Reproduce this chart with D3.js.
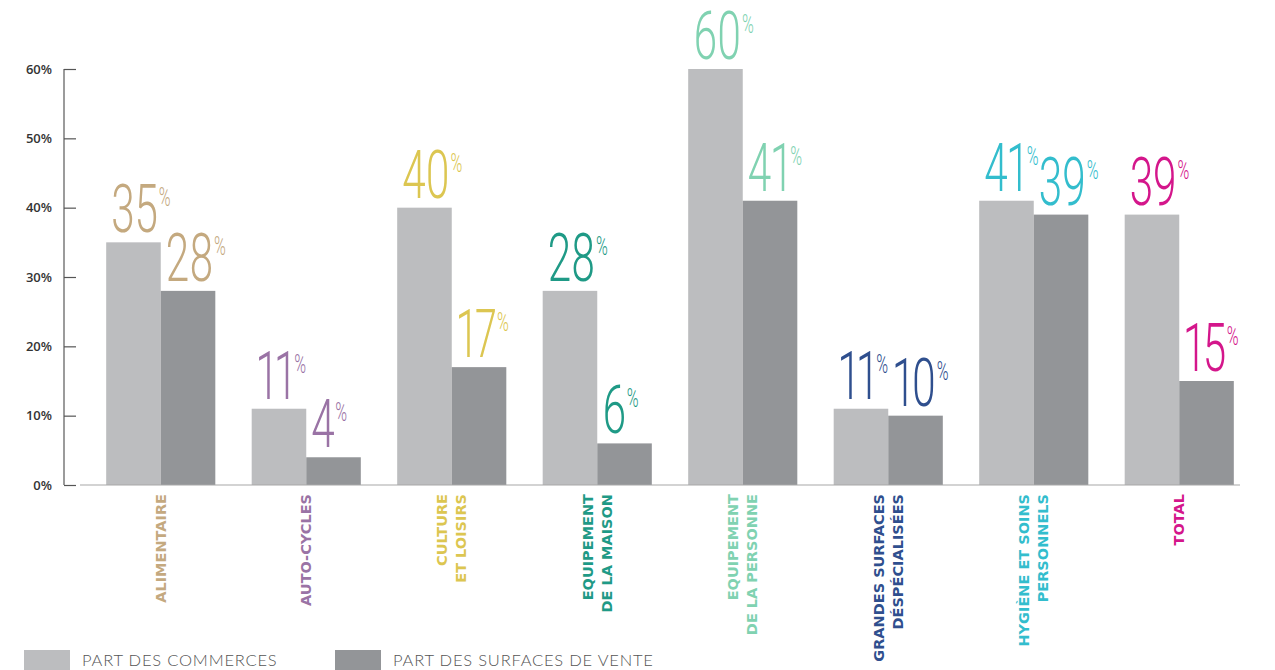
<!DOCTYPE html>
<html>
<head>
<meta charset="utf-8">
<script src="https://cdn.jsdelivr.net/npm/d3@7"></script>
<style>
  body { margin: 0; background: #fff; }
  svg { display: block; }
</style>
</head>
<body>
<svg width="1275" height="670"></svg>
<script>
let svg = d3.select("svg");

// data
let categories = ["alimentaire", "auto", "culture", "maison", "personne", "gsurf", "hygiene", "total"];
let catLabels = [
    ["ALIMENTAIRE"],
    ["AUTO-CYCLES"],
    ["CULTURE", "ET LOISIRS"],
    ["EQUIPEMENT", "DE LA MAISON"],
    ["EQUIPEMENT", "DE LA PERSONNE"],
    ["GRANDES SURFACES", "DÉSPÉCIALISÉES"],
    ["HYGIÈNE ET SOINS", "PERSONNELS"],
    ["TOTAL"]
];
let catColors = ["#c4a97f", "#9a73a5", "#dcc651", "#1f9a86", "#80d2b1", "#2f4f8e", "#33bdcd", "#d4168b"];
let commerces = [35, 11, 40, 28, 60, 11, 41, 39];
let surfaces = [28, 4, 17, 6, 41, 10, 39, 15];
let seriesNames = ["PART DES COMMERCES", "PART DES SURFACES DE VENTE"];
let seriesColors = ["#bcbdbf", "#939598"];
let yTicks = [0, 10, 20, 30, 40, 50, 60];

// layout
let x0 = d3.scaleBand().domain(categories).range([88, 1252]).paddingInner(0.25).paddingOuter(0.125);
let x1 = d3.scaleBand().domain([0, 1]).range([0, x0.bandwidth()]);
let y = d3.scaleLinear().domain([0, 60]).range([485, 69]);

// y axis
let yAxis = d3.axisRight(y).tickValues(yTicks).tickSize(12).tickFormat("");
let ga = svg.append("g").attr("transform", "translate(64,0)").call(yAxis);
ga.select(".domain").attr("stroke", "#7a7a7a").attr("stroke-width", 1.5).attr("d", "M0," + y(60) + "V" + y(0));
ga.selectAll(".tick line").attr("stroke", "#555").attr("stroke-width", 1.2);

svg.append("g").selectAll("text")
    .data(yTicks)
    .join("text")
    .attr("x", 52)
    .attr("y", d => y(d))
    .attr("dy", "0.35em")
    .attr("text-anchor", "end")
    .style("font-family", "'Open Sans', sans-serif")
    .style("font-weight", 600)
    .style("font-size", "13px")
    .style("fill", "#333")
    .text(d => d + "%");

// bars
let groups = svg.append("g").selectAll("g")
    .data(categories)
    .join("g")
    .attr("transform", d => "translate(" + x0(d) + ",0)");

groups.each(function (c, i) {
    let g = d3.select(this);
    let vals = [commerces[i], surfaces[i]];
    vals.forEach((v, s) => {
        g.append("rect")
            .attr("x", x1(s))
            .attr("y", y(v))
            .attr("width", x1.bandwidth())
            .attr("height", y(0) - y(v))
            .attr("fill", seriesColors[s]);
        let t = g.append("text")
            .attr("transform", "translate(" + (x1(s) + 5) + "," + (y(v) - 10) + ") scale(0.64,1)")
            .style("font-family", "Roboto, sans-serif")
            .style("font-weight", 300)
            .style("font-variant-numeric", "proportional-nums")
            .style("font-feature-settings", "'pnum' 1")
            .style("fill", catColors[i]);
        t.append("tspan").style("font-size", "66px").text(v);
        t.append("tspan").style("font-size", "25px").attr("dy", -26).attr("dx", 1).text("%");
    });
});

// baseline
svg.append("line")
    .attr("x1", 80).attr("x2", 1240)
    .attr("y1", y(0)).attr("y2", y(0))
    .attr("stroke", "#a8a8a8").attr("stroke-width", 1.2);

// category labels
categories.forEach((c, i) => {
    let lines = catLabels[i];
    let cx = x0(c) + x0.bandwidth() / 2;
    lines.forEach((ln, k) => {
        let off = (k - (lines.length - 1) / 2) * 19;
        svg.append("text")
            .attr("transform", "translate(" + (cx + off) + ",494) rotate(-90)")
            .attr("text-anchor", "end")
            .attr("dy", "0.36em")
            .style("font-family", "'DejaVu Sans', sans-serif")
            .style("font-weight", "bold")
            .style("font-size", "14.5px")
            .style("fill", catColors[i])
            .text(ln);
    });
});

// legend
let legX = [24, 335];
seriesNames.forEach((n, s) => {
    svg.append("rect")
        .attr("x", legX[s]).attr("y", 650)
        .attr("width", 46).attr("height", 22)
        .attr("fill", seriesColors[s]);
    svg.append("text")
        .attr("x", legX[s] + 58).attr("y", 666)
        .style("font-family", "Lato, sans-serif")
        .style("font-weight", 300)
        .style("font-size", "16.5px")
        .style("letter-spacing", "0.8px")
        .style("fill", "#555")
        .text(n);
});
</script>
</body>
</html>
